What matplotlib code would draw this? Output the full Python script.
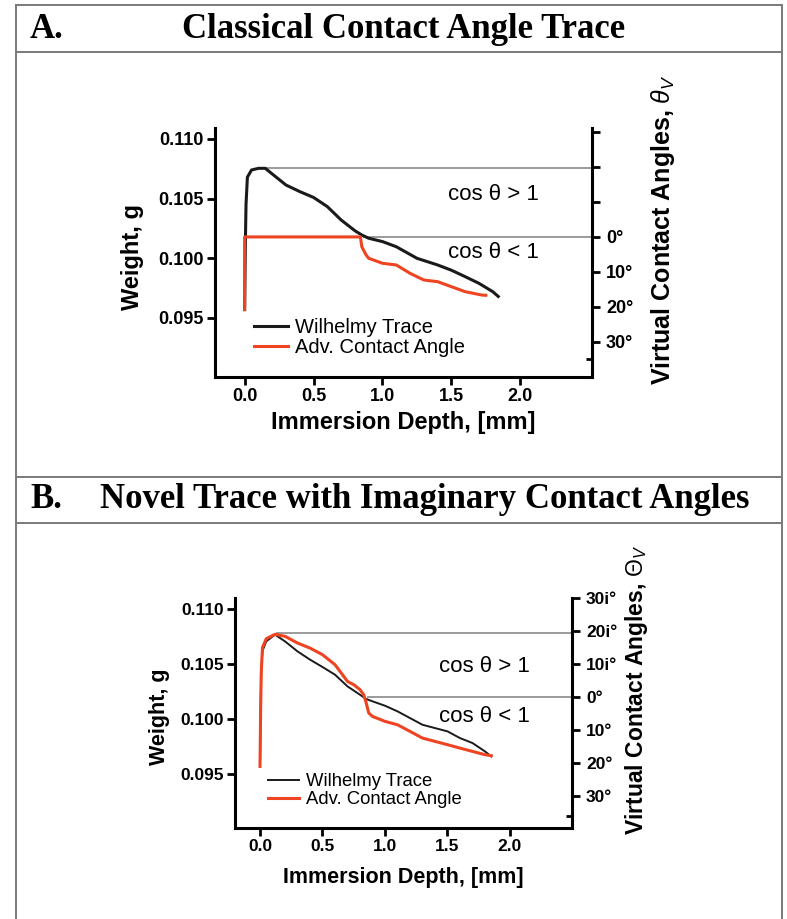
import matplotlib
matplotlib.use('Agg')
import matplotlib.pyplot as plt
from matplotlib.lines import Line2D

plt.rcParams['font.family'] = ['Liberation Sans', 'DejaVu Sans']
plt.rcParams['mathtext.fontset'] = 'custom'
plt.rcParams['mathtext.rm'] = 'Liberation Sans'
plt.rcParams['mathtext.it'] = 'Liberation Sans:italic'
plt.rcParams['mathtext.bf'] = 'Liberation Sans:bold'

W, H = 787, 919

# ---- data ----
# Panel A: classical trace
a_depth_w = [0.0, 0.005, 0.01, 0.02, 0.05, 0.1, 0.15, 0.2, 0.3, 0.4, 0.5, 0.6, 0.7, 0.8, 0.85,
             0.9, 1.0, 1.1, 1.25, 1.4, 1.5, 1.6, 1.7, 1.8, 1.84]
a_weight_w = [0.0957, 0.1010, 0.1045, 0.1068, 0.1074, 0.10754, 0.10754, 0.10707, 0.10614, 0.10559,
              0.1051, 0.10433, 0.10321, 0.10231, 0.10195, 0.10168, 0.1014, 0.10097, 0.1000,
              0.09944, 0.0990, 0.09846, 0.0979, 0.0972, 0.0968]
a_depth_adv = [0.0, 0.0, 0.02, 0.84, 0.85, 0.88, 0.9, 1.0, 1.1, 1.2, 1.3, 1.4, 1.5, 1.6, 1.72, 1.75]
a_weight_adv = [0.0957, 0.10179, 0.10179, 0.10179, 0.10097, 0.10030, 0.1000, 0.09958, 0.09944,
                0.09874, 0.09818, 0.09804, 0.09762, 0.0972, 0.09692, 0.0969]
a_top_level, a_top_start = 0.10757, 0.15
a_zero_level, a_zero_start = 0.10179, 0.86

# Panel B: novel trace with imaginary angles
b_depth_w = [0.0, 0.005, 0.01, 0.02, 0.05, 0.12, 0.2, 0.3, 0.4, 0.5, 0.6, 0.7, 0.8, 0.85, 0.9, 1.0,
             1.1, 1.2, 1.3, 1.4, 1.5, 1.6, 1.7, 1.8, 1.85]
b_weight_w = [0.0957, 0.1010, 0.1045, 0.1062, 0.10706, 0.10767, 0.10706, 0.10615, 0.1054, 0.10473,
              0.10403, 0.10297, 0.10221, 0.10182, 0.10161, 0.10121, 0.1007, 0.10009, 0.09948,
              0.09918, 0.09888, 0.09827, 0.09782, 0.09706, 0.0966]
b_depth_adv = [0.0, 0.005, 0.01, 0.02, 0.05, 0.12, 0.2, 0.3, 0.4, 0.5, 0.6, 0.65, 0.7, 0.75, 0.8,
               0.83, 0.85, 0.87, 0.9, 1.0, 1.1, 1.2, 1.3, 1.4, 1.5, 1.6, 1.7, 1.8, 1.85]
b_weight_adv = [0.0957, 0.1008, 0.1043, 0.1065, 0.1073, 0.1077, 0.10752, 0.10691, 0.10645, 0.10585,
                0.10494, 0.10418, 0.10342, 0.10312, 0.10267, 0.10221, 0.10145, 0.10055, 0.10024,
                0.09979, 0.09948, 0.09888, 0.09827, 0.09797, 0.09767, 0.09736, 0.09706, 0.09676,
                0.09667]
b_top_level, b_top_start = 0.1078, 0.13
b_zero_level, b_zero_start = 0.1020, 0.86

depth_ticks = [0.0, 0.5, 1.0, 1.5, 2.0]
weight_ticks = [0.095, 0.100, 0.105, 0.110]
a_angle_ticks = [30, 20, 10, 0, -10, -20, -30]
a_angle_labels = ['', '', '', '0°', '10°', '20°', '30°']
b_angle_ticks = [30, 20, 10, 0, -10, -20, -30]
b_angle_labels = ['30i°', '20i°', '10i°', '0°', '10°', '20°', '30°']

BLACK = '#1a1a1a'
RED = '#ee4422'
GRAY = '#8a8a8a'

fig = plt.figure(figsize=(W / 100, H / 100), dpi=100)


def fx(px):
    return px / W


def fy(py):
    return 1 - py / H


def box_line(x0, y0, x1, y1):
    fig.add_artist(Line2D([fx(x0), fx(x1)], [fy(y0), fy(y1)], transform=fig.transFigure,
                          color='#7a7a7a', lw=1.4))


# panel frames
box_line(16, 5, 782, 5)
box_line(16, 52, 782, 52)
box_line(16, 477, 782, 477)
box_line(16, 523, 782, 523)
box_line(16, 5, 16, 919)
box_line(782, 5, 782, 919)

title_font = dict(family='Liberation Serif', weight='bold', fontsize=25)
fig.text(fx(30), fy(29), 'A.', ha='left', va='center', **title_font)
fig.text(fx(404), fy(29), 'Classical Contact Angle Trace', ha='center', va='center', **title_font)
fig.text(fx(30), fy(500), 'B.', ha='left', va='center', **title_font)
fig.text(fx(100), fy(500), 'Novel Trace with Imaginary Contact Angles', ha='left', va='center',
         **title_font)


def panel(box, xlim, ylim, ylim2, dw, ww, da, wa, lw_w, top, zero, angle_ticks, angle_labels,
          fs, cos_pos, leg_anchor, ylab_pos, xlab_y, rlab, rlab_pos, minor_tick):
    l, t, r, b = box
    ax = fig.add_axes([fx(l), fy(b), (r - l) / W, (b - t) / H])
    ax.plot(dw, ww, color=BLACK, lw=lw_w, label='Wilhelmy Trace', zorder=3)
    ax.plot(da, wa, color=RED, lw=2.2, label='Adv. Contact Angle', zorder=4)
    ax.hlines(top[0], top[1], xlim[1], color=GRAY, lw=1.2, zorder=2)
    ax.hlines(zero[0], zero[1], xlim[1], color=GRAY, lw=1.2, zorder=2)
    ax.set_xlim(xlim)
    ax.set_ylim(ylim)
    ax.set_xticks(depth_ticks)
    ax.set_xticklabels([f'{v:.1f}' for v in depth_ticks])
    ax.set_yticks(weight_ticks)
    ax.set_yticklabels([f'{v:.3f}' for v in weight_ticks])
    for s in ['top', 'right']:
        ax.spines[s].set_visible(False)
    for s in ['left', 'bottom']:
        ax.spines[s].set_linewidth(2.2)
    ax.tick_params(direction='out', length=6, width=2, labelsize=fs['tick'], pad=2)
    for lab in ax.get_xticklabels() + ax.get_yticklabels():
        lab.set_fontweight('bold')

    ax2 = ax.twinx()
    ax2.set_ylim(ylim2)
    ax2.set_yticks(angle_ticks)
    ax2.set_yticklabels(angle_labels)
    ax2.set_yticks([minor_tick], minor=True)
    for s in ['top', 'left', 'bottom']:
        ax2.spines[s].set_visible(False)
    ax2.spines['right'].set_linewidth(2.2)
    ax2.tick_params(direction='out', length=6, width=2, labelsize=fs['tick'], pad=4)
    ax2.tick_params(which='minor', direction='in', length=4, width=2)
    for lab in ax2.get_yticklabels():
        lab.set_fontweight('bold')

    ax.text(cos_pos[0], cos_pos[1], 'cos θ > 1', transform=fig.transFigure, ha='center',
            va='center', fontsize=fs['cos'])
    ax.text(cos_pos[0], cos_pos[2], 'cos θ < 1', transform=fig.transFigure, ha='center',
            va='center', fontsize=fs['cos'])

    ax.legend(loc='upper left', bbox_to_anchor=leg_anchor, frameon=False, fontsize=fs['leg'],
              borderpad=0, borderaxespad=0, handlelength=1.7, handletextpad=0.35,
              labelspacing=0.05)

    fig.text(ylab_pos[0], ylab_pos[1], 'Weight, g', rotation=90, ha='center', va='center',
             fontsize=fs['lab'], fontweight='bold')
    fig.text(fx((l + r) / 2), xlab_y, 'Immersion Depth, [mm]', ha='center', va='center',
             fontsize=fs['lab'], fontweight='bold')
    fig.text(rlab_pos[0], rlab_pos[1], rlab, rotation=90, ha='center', va='center',
             fontsize=fs['rlab'], fontweight='bold')
    return ax


panel((215, 128, 592, 377), (-0.215, 2.52), (0.09005, 0.11092), (-40, 31),
      a_depth_w, a_weight_w, a_depth_adv, a_weight_adv, 2.2,
      (a_top_level, a_top_start), (a_zero_level, a_zero_start),
      a_angle_ticks, a_angle_labels,
      dict(tick=13, cos=16, leg=14.5, lab=17, rlab=18),
      (fx(493), fy(195), fy(252)), (0.103, 0.237),
      (fx(132), fy(257)), fy(422),
      r'Virtual Contact Angles, $\theta_V$', (fx(663), fy(230)), -35)

panel((235, 598, 572, 828), (-0.2, 2.496), (0.0901, 0.1110), (-39.7, 30),
      b_depth_w, b_weight_w, b_depth_adv, b_weight_adv, 1.4,
      (b_top_level, b_top_start), (b_zero_level, b_zero_start),
      b_angle_ticks, b_angle_labels,
      dict(tick=12.5, cos=16, leg=13.3, lab=15.5, rlab=16.5),
      (fx(484), fy(667), fy(717)), (0.098, 0.238),
      (fx(159), fy(717)), fy(877),
      r'Virtual Contact Angles, $\Theta_V$', (fx(637), fy(690)), -36)

fig.savefig('out.png', dpi=100)
